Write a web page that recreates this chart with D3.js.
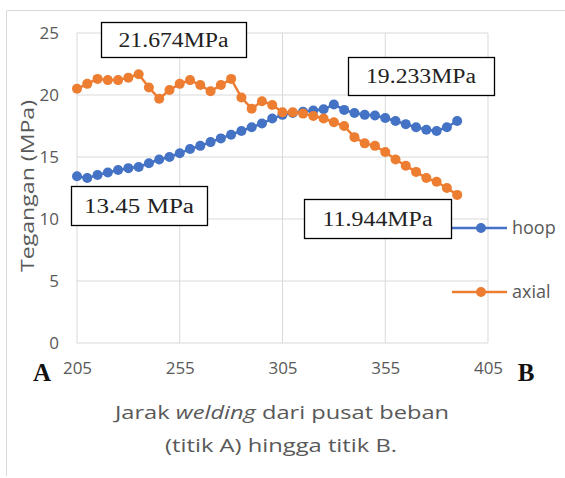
<!DOCTYPE html>
<html>
<head>
<meta charset="utf-8">
<script src="https://cdn.jsdelivr.net/npm/d3@7"></script>
<style>
  body { margin: 0; background: #fff; }
  svg text { font-family: "Open Sans", "DejaVu Sans", sans-serif; }
</style>
</head>
<body>
<svg id="chart" width="565" height="478"></svg>
<script>
// jarak (mm) and tegangan (MPa)
var jarak = [205, 210, 215, 220, 225, 230, 235, 240, 245, 250, 255, 260, 265, 270, 275, 280, 285, 290, 295,
             300, 305, 310, 315, 320, 325, 330, 335, 340, 345, 350, 355, 360, 365, 370, 375, 380, 385, 390];
var hoop = [13.45, 13.3, 13.55, 13.75, 13.95, 14.1, 14.2, 14.5, 14.8, 15.0, 15.3, 15.65, 15.9, 16.2, 16.5, 16.8, 17.1, 17.4, 17.7,
            18.1, 18.4, 18.55, 18.65, 18.75, 18.85, 19.233, 18.8, 18.55, 18.4, 18.35, 18.15, 17.9, 17.65, 17.4, 17.2, 17.1, 17.4, 17.9];
var axial = [20.5, 20.9, 21.3, 21.2, 21.2, 21.4, 21.674, 20.6, 19.7, 20.4, 20.9, 21.2, 20.8, 20.3, 20.8, 21.3, 19.8, 18.9, 19.5,
             19.2, 18.6, 18.6, 18.5, 18.3, 18.1, 17.8, 17.5, 16.6, 16.1, 15.9, 15.4, 14.8, 14.3, 13.8, 13.3, 13.0, 12.5, 11.944];
var xTicks = [205, 255, 305, 355, 405];
var yTicks = [0, 5, 10, 15, 20, 25];
var notes = ["21.674MPa", "13.45 MPa", "19.233MPa", "11.944MPa"];

var svg = d3.select("#chart"),
    plotL = 77, plotR = 488, plotT = 33, plotB = 343,
    grey = "#595959";

var x = d3.scaleLinear().domain([205, 405]).range([plotL, plotR]),
    y = d3.scaleLinear().domain([0, 25]).range([plotB, plotT]);

// outer frame
svg.append("path")
  .attr("d", "M6.5,476 V10.5 H565")
  .attr("fill", "none").attr("stroke", "#d9d9d9").attr("stroke-width", 1);

// gridlines
svg.append("g").selectAll("line").data(yTicks).enter().append("line")
  .attr("x1", plotL).attr("x2", plotR)
  .attr("y1", d => y(d)).attr("y2", d => y(d))
  .attr("stroke", "#d9d9d9").attr("stroke-width", 1);
svg.append("g").selectAll("line").data(xTicks).enter().append("line")
  .attr("x1", d => x(d)).attr("x2", d => x(d))
  .attr("y1", plotT).attr("y2", plotB)
  .attr("stroke", "#d9d9d9").attr("stroke-width", 1);

// axes, labels only
var yAxis = svg.append("g").attr("transform", "translate(" + (plotL - 8) + ",0)")
  .call(d3.axisLeft(y).tickValues(yTicks).tickSize(0));
var xAxis = svg.append("g").attr("transform", "translate(0," + (plotB + 16) + ")")
  .call(d3.axisBottom(x).tickValues(xTicks).tickSize(0));
[yAxis, xAxis].forEach(function(a) {
  a.select(".domain").remove();
  a.selectAll("text").attr("fill", grey).style("font-size", "17px")
    .style("font-family", "'Open Sans', sans-serif");
});
yAxis.selectAll("text").attr("x", -10).attr("dy", "0.35em");

svg.append("text").attr("x", 42).attr("y", 381).attr("text-anchor", "middle")
  .style("font-family", "'Liberation Serif', serif").style("font-size", "25px").style("font-weight", "bold")
  .attr("fill", "#111").text("A");
svg.append("text").attr("x", 526).attr("y", 381).attr("text-anchor", "middle")
  .style("font-family", "'Liberation Serif', serif").style("font-size", "25px").style("font-weight", "bold")
  .attr("fill", "#111").text("B");

// axis titles
var xt = svg.append("text").attr("x", 282).attr("y", 419).attr("text-anchor", "middle")
  .attr("fill", grey).style("font-size", "19px")
  .attr("textLength", 334).attr("lengthAdjust", "spacingAndGlyphs");
xt.append("tspan").text("Jarak ");
xt.append("tspan").style("font-style", "italic").text("welding");
xt.append("tspan").text(" dari pusat beban");
svg.append("text").attr("x", 281).attr("y", 452).attr("text-anchor", "middle")
  .attr("fill", grey).style("font-size", "19px")
  .attr("textLength", 232).attr("lengthAdjust", "spacingAndGlyphs")
  .text("(titik A)  hingga titik B.");

svg.append("text").attr("transform", "translate(34,186) rotate(-90)").attr("text-anchor", "middle")
  .attr("fill", grey).style("font-size", "18px")
  .attr("textLength", 172).attr("lengthAdjust", "spacingAndGlyphs")
  .text("Tegangan (MPa)");

// series
var series = [
  { name: "hoop", values: hoop, color: "#4472C4" },
  { name: "axial", values: axial, color: "#ED7D31" }
];
var line = d3.line().x((d, i) => x(jarak[i])).y(d => y(d));

series.forEach(function(s) {
  var g = svg.append("g");
  g.append("path").datum(s.values).attr("d", line)
    .attr("fill", "none").attr("stroke", s.color).attr("stroke-width", 2.5);
  g.selectAll("circle").data(s.values).enter().append("circle")
    .attr("cx", (d, i) => x(jarak[i])).attr("cy", d => y(d)).attr("r", 5)
    .attr("fill", s.color);
});

// legend
series.forEach(function(s, i) {
  var ly = 228 + i * 64;
  svg.append("line").attr("x1", 452).attr("x2", 507).attr("y1", ly).attr("y2", ly)
    .attr("stroke", s.color).attr("stroke-width", 2.5);
  svg.append("circle").attr("cx", 481).attr("cy", ly).attr("r", 5).attr("fill", s.color);
  svg.append("text").attr("x", 512).attr("y", ly).attr("dy", "0.35em")
    .attr("fill", grey).style("font-size", "18px").text(s.name);
});

// annotation boxes
var boxes = [
  { x: 101, y: 22, w: 145, h: 35 },
  { x: 71, y: 186, w: 136, h: 39 },
  { x: 348, y: 57, w: 146, h: 38 },
  { x: 304, y: 199, w: 147, h: 39 }
];
boxes.forEach(function(b, i) {
  svg.append("rect").attr("x", b.x + 0.5).attr("y", b.y + 0.5).attr("width", b.w).attr("height", b.h)
    .attr("fill", "#fff").attr("stroke", "#000").attr("stroke-width", 1.3);
  svg.append("text").attr("x", b.x + b.w / 2).attr("y", b.y + b.h / 2).attr("dy", "0.35em")
    .attr("text-anchor", "middle").attr("fill", "#222")
    .style("font-family", "'Liberation Serif', serif").style("font-size", "20px")
    .attr("textLength", 110).attr("lengthAdjust", "spacingAndGlyphs")
    .text(notes[i]);
});
</script>
</body>
</html>
